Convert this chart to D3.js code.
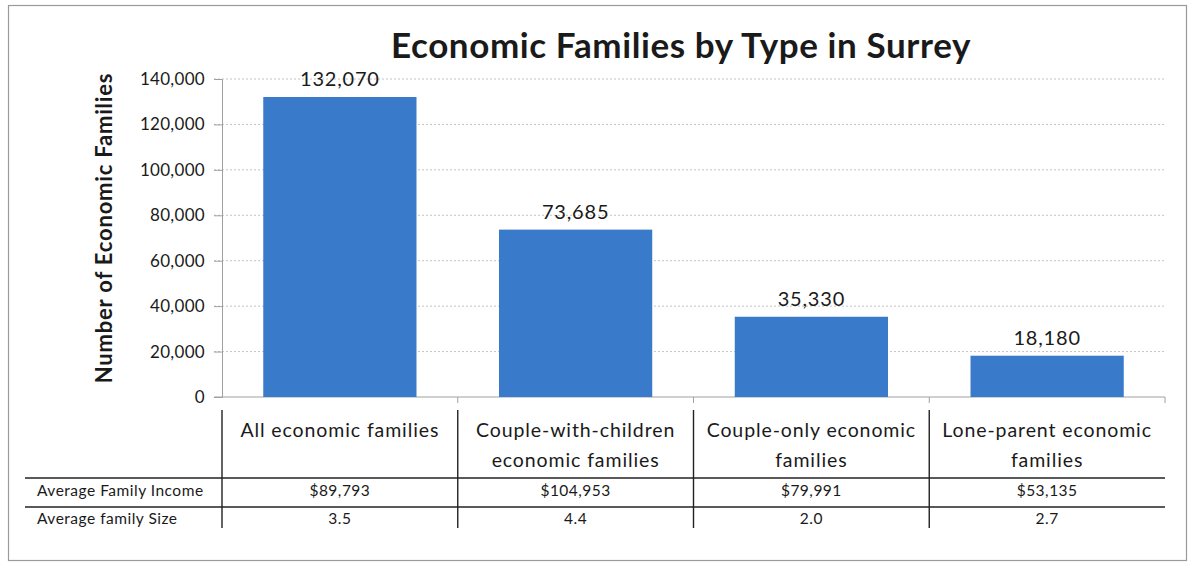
<!DOCTYPE html>
<html>
<head>
<meta charset="utf-8">
<script src="https://d3js.org/d3.v7.min.js"></script>
<style>
  body { margin: 0; background: #fff; }
  svg text { font-family: Lato, "Open Sans", sans-serif; fill: #1a1a1a; }
</style>
</head>
<body>
<script>
const categories = [
  ["All economic families"],
  ["Couple-with-children", "economic families"],
  ["Couple-only economic", "families"],
  ["Lone-parent economic", "families"]
];
const families = [132070, 73685, 35330, 18180];
const incomeRow = ["$89,793", "$104,953", "$79,991", "$53,135"];
const sizeRow = ["3.5", "4.4", "2.0", "2.7"];
const rowLabels = ["Average Family Income", "Average family Size"];
const yTicks = [0, 20000, 40000, 60000, 80000, 100000, 120000, 140000];

const width = 1188, height = 565;
const plot = { left: 222, right: 1165, top: 79, bottom: 397 };

const svg = d3.select("body").append("svg")
  .attr("width", width).attr("height", height);

// outer frame
svg.append("rect")
  .attr("x", 8.5).attr("y", 5.5)
  .attr("width", 1178).attr("height", 555)
  .attr("fill", "none").attr("stroke", "#9a9a9a").attr("stroke-width", 1.2);

const x = d3.scaleBand()
  .domain(d3.range(families.length))
  .range([plot.left, plot.right])
  .paddingInner(0.35).paddingOuter(0.175);

const y = d3.scaleLinear().domain([0, 140000]).range([plot.bottom, plot.top]);

// gridlines
svg.append("g").selectAll("line").data(yTicks.filter(d => d > 0)).join("line")
  .attr("x1", plot.left - 8).attr("x2", plot.right)
  .attr("y1", d => y(d)).attr("y2", d => y(d))
  .attr("stroke", "#c4c4c4").attr("stroke-dasharray", "2,2");

// y axis
const yAxis = svg.append("g")
  .attr("transform", `translate(${plot.left},0)`)
  .call(d3.axisLeft(y).tickValues(yTicks).tickSize(8).tickPadding(9)
    .tickFormat(d3.format(",")));
yAxis.select(".domain").attr("stroke", "#a0a0a0");
yAxis.selectAll(".tick line").attr("stroke", "#a0a0a0");
yAxis.selectAll("text").attr("font-size", 17).attr("letter-spacing", 0.3).attr("fill", "#1a1a1a");

// x axis line
svg.append("line")
  .attr("x1", plot.left - 8).attr("x2", plot.right)
  .attr("y1", plot.bottom).attr("y2", plot.bottom)
  .attr("stroke", "#a0a0a0");

// bars
svg.append("g").selectAll("rect").data(families).join("rect")
  .attr("x", (d, i) => x(i))
  .attr("width", x.bandwidth())
  .attr("y", d => y(d))
  .attr("height", d => y(0) - y(d))
  .attr("fill", "#3a7aca");

// value labels
svg.append("g").selectAll("text").data(families).join("text")
  .attr("x", (d, i) => x(i) + x.bandwidth() / 2)
  .attr("y", d => y(d) - 11)
  .attr("text-anchor", "middle")
  .attr("font-size", 20).attr("letter-spacing", 0.8)
  .text(d => d3.format(",")(d));

// title
svg.append("text")
  .attr("x", 681).attr("y", 58)
  .attr("text-anchor", "middle")
  .attr("font-size", 35).attr("font-weight", "bold").attr("letter-spacing", 0.6)
  .text("Economic Families by Type in Surrey");

// y axis title
svg.append("text")
  .attr("transform", "translate(112,228) rotate(-90)")
  .attr("text-anchor", "middle")
  .attr("font-size", 22).attr("font-weight", "bold").attr("letter-spacing", 0.8)
  .text("Number of Economic Families");

// data table
const colX = d3.range(categories.length + 1).map(i => plot.left + i * (plot.right - plot.left) / categories.length);
const table = svg.append("g");

table.selectAll("line.v").data(colX.slice(0, categories.length)).join("line")
  .attr("x1", d => d).attr("x2", d => d)
  .attr("y1", 410).attr("y2", 528)
  .attr("stroke", "#222").attr("stroke-width", 1.4);

// small category tick marks on axis
table.selectAll("line.t").data(colX.slice(1)).join("line")
  .attr("x1", d => d).attr("x2", d => d)
  .attr("y1", plot.bottom).attr("y2", plot.bottom + 6)
  .attr("stroke", "#a0a0a0");

[478, 507].forEach(yy => {
  table.append("line")
    .attr("x1", 25).attr("x2", plot.right)
    .attr("y1", yy).attr("y2", yy)
    .attr("stroke", "#222").attr("stroke-width", 1.6);
});

categories.forEach((lines, i) => {
  const cx = x(i) + x.bandwidth() / 2;
  lines.forEach((t, j) => {
    table.append("text")
      .attr("x", cx).attr("y", 437 + j * 30)
      .attr("text-anchor", "middle")
      .attr("font-size", 19.5).attr("letter-spacing", 0.9)
      .text(t);
  });
});

[incomeRow, sizeRow].forEach((row, r) => {
  const yy = 496 + r * 28;
  table.append("text")
    .attr("x", 37).attr("y", yy)
    .attr("font-size", 15.5).attr("letter-spacing", 0.5)
    .text(rowLabels[r]);
  row.forEach((v, i) => {
    table.append("text")
      .attr("x", x(i) + x.bandwidth() / 2).attr("y", yy)
      .attr("text-anchor", "middle")
      .attr("font-size", 15.5).attr("letter-spacing", 0.5)
      .text(v);
  });
});
</script>
</body>
</html>
